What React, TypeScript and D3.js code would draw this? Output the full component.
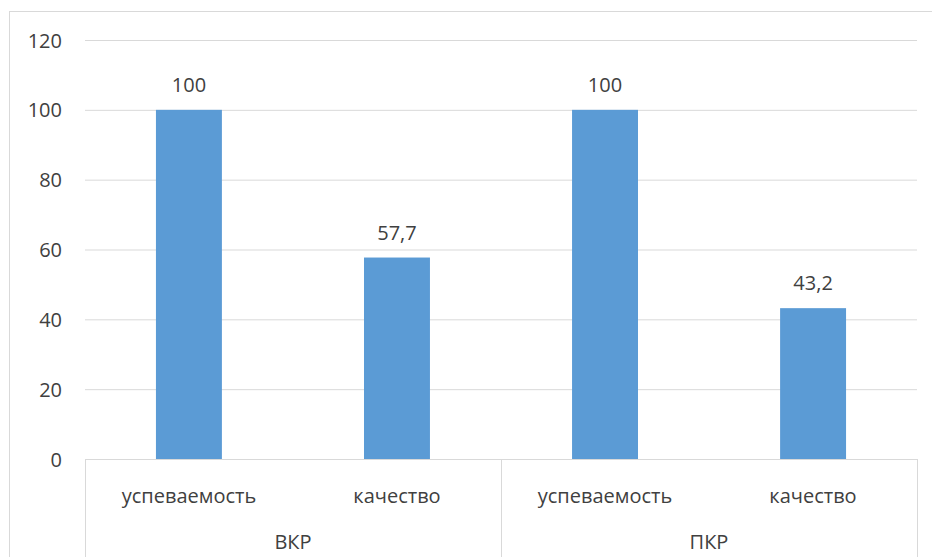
import { useEffect } from "react"
import * as d3 from "d3"

const groups = ["ВКР", "ПКР"]
const subLabels = ["успеваемость", "качество"]
const values = [100, 57.7, 100, 43.2]
const valueLabels = ["100", "57,7", "100", "43,2"]
const yTicks = [0, 20, 40, 60, 80, 100, 120]

const W = 932
const H = 557
const FONT = "'Open Sans', 'Liberation Sans', Arial, sans-serif"
const TEXT = "#404040"
const GRID = "#d9d9d9"
const BAR = "#5b9bd5"

export default function App() {
  useEffect(() => {
    document.body.style.margin = "0"
  }, [])

  const left = 85
  const right = 917
  const top = 40
  const base = 459

  const cats = values.map((_, i) => String(i))
  const x = d3.scaleBand<string>().domain(cats).range([left, right]).paddingInner(0.683).paddingOuter(0.341)
  const slot = d3.scaleBand<string>().domain(cats).range([left, right])
  const y = d3.scaleLinear().domain([0, 120]).range([base, top])
  const grp = d3.scaleBand<string>().domain(groups).range([left, right])

  return (
    <svg width={W} height={H} style={{ display: "block", fontFamily: FONT }}>
      <rect x={0} y={0} width={W} height={H} fill="#fff" />
      <rect x={9.5} y={11.5} width={W} height={H} fill="none" stroke={GRID} strokeWidth={1} />

      {yTicks.map((t) => (
        <g key={t}>
          {t > 0 && <line x1={left} x2={right} y1={y(t) + 0.5} y2={y(t) + 0.5} stroke={GRID} strokeWidth={1} />}
          <text x={62} y={y(t)} textAnchor="end" dominantBaseline="central" fontSize={20} fill={TEXT}>{t}</text>
        </g>
      ))}

      {values.map((v, i) => (
        <g key={i}>
          <rect x={x(String(i))} y={y(v)} width={x.bandwidth()} height={base - y(v)} fill={BAR} />
          <text x={x(String(i))! + x.bandwidth() / 2} y={y(v) - 18} textAnchor="middle" fontSize={20} fill={TEXT}>
            {valueLabels[i]}
          </text>
          <text x={slot(String(i))! + slot.bandwidth() / 2} y={495} textAnchor="middle" dominantBaseline="central" fontSize={20} fill={TEXT}>
            {subLabels[i % subLabels.length]}
          </text>
        </g>
      ))}

      <line x1={left} x2={right} y1={base + 0.5} y2={base + 0.5} stroke={GRID} strokeWidth={1} />
      {[left, grp(groups[1])!, right].map((xx, i) => (
        <line key={i} x1={xx + 0.5} x2={xx + 0.5} y1={base} y2={H} stroke={GRID} strokeWidth={1} />
      ))}
      {groups.map((g) => (
        <text key={g} x={grp(g)! + grp.bandwidth() / 2} y={541} textAnchor="middle" dominantBaseline="central" fontSize={20} fill={TEXT}>
          {g}
        </text>
      ))}
    </svg>
  )
}
